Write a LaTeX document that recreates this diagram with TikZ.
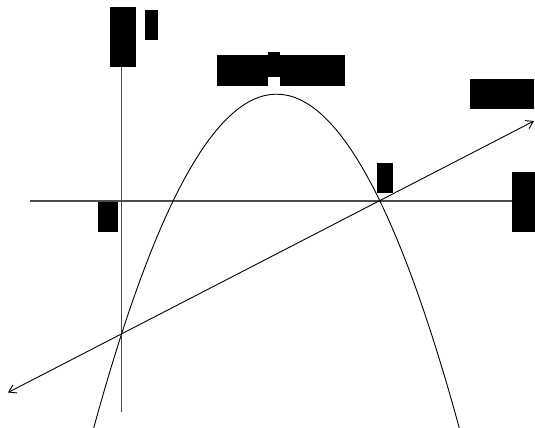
\documentclass[tikz,border=0pt]{standalone}
\usetikzlibrary{arrows.meta}
\begin{document}
\begin{tikzpicture}[x=1pt,y=-1pt,
  redact/.style={fill=black,inner sep=0pt,outer sep=0pt,draw=none},
  axisline/.style={draw=black!70,line width=1.3pt},
  curveline/.style={draw=black,line width=0.9pt},
  arrowline/.style={draw=black,line width=0.9pt,{Straight Barb[length=7pt,width=9pt]}-{Straight Barb[length=7pt,width=9pt]}}]
\useasboundingbox (0,0) rectangle (535,428);
% label boxes (redacted text)
\node[redact,minimum width=26pt,minimum height=60pt] (ylab) at (123,37) {};
\node[redact,minimum width=13pt,minimum height=30pt] (ylabb) at (151.5,25) {};
\node[redact,minimum width=51pt,minimum height=31pt] (ftopa) at (242.5,70.5) {};
\node[redact,minimum width=12pt,minimum height=25pt] (ftopb) at (274,64.5) {};
\node[redact,minimum width=65pt,minimum height=31pt] (ftopc) at (312.5,70.5) {};
\node[redact,minimum width=64pt,minimum height=30pt] (glab) at (502,94) {};
\node[redact,minimum width=16pt,minimum height=30pt] (plab) at (385,178) {};
\node[redact,minimum width=23pt,minimum height=60pt] (xlab) at (523.5,202) {};
\node[redact,minimum width=20pt,minimum height=30pt] (olab) at (108,217) {};
% coordinates
\coordinate (ytop) at (121.5,67);
\coordinate (ybot) at (121.5,412);
\coordinate (xleft) at (30,201);
\coordinate (xright) at (512,201);
\coordinate (gl) at (8,392.5);
\coordinate (gr) at (534,121);
\coordinate (pl) at (93.7,428);
\coordinate (pr) at (459.3,428);
% axes
\draw[axisline] (ytop) -- (ybot);
\draw[axisline] (xleft) -- (xright);
% parabola
\draw[curveline] (pl) .. controls (215.6,-17.1) and (337.4,-17.1) .. (pr);
% line
\draw[arrowline] (gl) -- (gr);
\end{tikzpicture}
\end{document}
